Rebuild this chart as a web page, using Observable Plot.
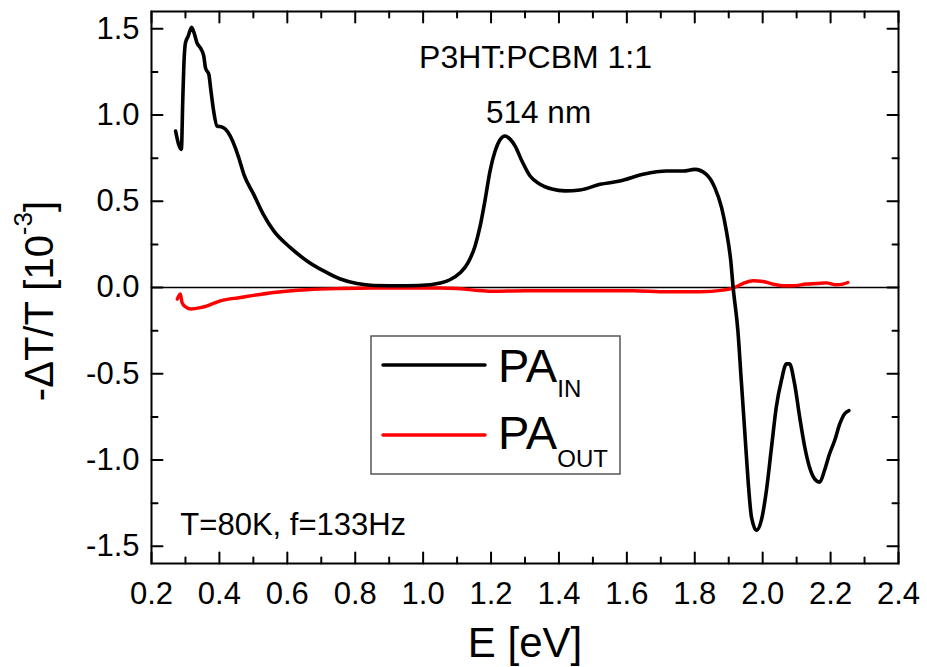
<!DOCTYPE html>
<html><head><meta charset="utf-8">
<script src="https://cdn.jsdelivr.net/npm/d3@7"></script>
<script src="https://cdn.jsdelivr.net/npm/@observablehq/plot@0.6"></script>
<style>body{margin:0;background:#fff;} svg{display:block;}</style>
</head><body><div id="chart"></div>
<script>
// PA_IN (black) photon energy [eV] and -ΔT/T [1e-3]
const E_in = [
  0.271, 0.280, 0.288, 0.292, 0.295, 0.300, 0.308, 0.318, 0.327, 0.334,
  0.344, 0.354, 0.359, 0.369, 0.374, 0.383, 0.393, 0.408, 0.418, 0.432,
  0.447, 0.457, 0.472, 0.501, 0.529, 0.560, 0.609, 0.658, 0.707, 0.756,
  0.805, 0.854, 0.952, 1.021, 1.050, 1.079, 1.109, 1.132, 1.153, 1.168,
  1.182, 1.197, 1.212, 1.226, 1.241, 1.256, 1.271, 1.291, 1.315, 1.344,
  1.379, 1.418, 1.462, 1.521, 1.579, 1.648, 1.717, 1.766, 1.800, 1.834,
  1.859, 1.879, 1.893, 1.906, 1.913, 1.927, 1.937, 1.947, 1.957, 1.967,
  1.982, 1.996, 2.011, 2.026, 2.040, 2.055, 2.070, 2.079, 2.094, 2.109,
  2.124, 2.138, 2.153, 2.168, 2.182, 2.197, 2.212, 2.227, 2.241, 2.254
];
const PA_in = [
  0.907, 0.830, 0.801, 1.080, 1.273, 1.418, 1.457, 1.509, 1.466, 1.418,
  1.389, 1.341, 1.273, 1.235, 1.157, 1.023, 0.936, 0.930, 0.917, 0.878,
  0.810, 0.752, 0.656, 0.540, 0.425, 0.328, 0.231, 0.154, 0.096, 0.049,
  0.023, 0.012, 0.010, 0.016, 0.026, 0.045, 0.085, 0.143, 0.241, 0.357,
  0.502, 0.675, 0.791, 0.855, 0.878, 0.860, 0.820, 0.733, 0.646, 0.599,
  0.571, 0.560, 0.565, 0.598, 0.617, 0.656, 0.675, 0.675, 0.685, 0.656,
  0.579, 0.463, 0.328, 0.154, 0.000, -0.251, -0.540, -0.829, -1.119, -1.331,
  -1.408, -1.350, -1.177, -0.926, -0.694, -0.540, -0.443, -0.443, -0.559, -0.752,
  -0.926, -1.042, -1.109, -1.128, -1.061, -0.964, -0.887, -0.791, -0.733, -0.714
];
// PA_OUT (red)
const E_out = [
  0.276, 0.285, 0.290, 0.300, 0.315, 0.344, 0.364, 0.403, 0.462, 0.560,
  0.658, 0.756, 0.854, 0.950, 1.050, 1.100, 1.150, 1.200, 1.300, 1.400,
  1.521, 1.618, 1.717, 1.815, 1.883, 1.913, 1.942, 1.972, 2.001, 2.030,
  2.060, 2.089, 2.129, 2.158, 2.187, 2.217, 2.236, 2.251
];
const PA_out = [
  -0.067, -0.038, -0.087, -0.112, -0.125, -0.117, -0.106, -0.077, -0.058, -0.029,
  -0.013, -0.006, -0.003, -0.003, -0.003, -0.006, -0.015, -0.022, -0.019, -0.019,
  -0.019, -0.019, -0.025, -0.025, -0.015, -0.003, 0.023, 0.039, 0.035, 0.020,
  0.010, 0.010, 0.020, 0.023, 0.027, 0.016, 0.020, 0.029
];
// tick values
const xMajor = [0.2, 0.4, 0.6, 0.8, 1.0, 1.2, 1.4, 1.6, 1.8, 2.0, 2.2, 2.4];
const xMinor = [0.3, 0.5, 0.7, 0.9, 1.1, 1.3, 1.5, 1.7, 1.9, 2.1, 2.3];
const yMajor = [-1.5, -1.0, -0.5, 0.0, 0.5, 1.0, 1.5];
const yMinor = [-1.25, -0.75, -0.25, 0.25, 0.75, 1.25];
const seriesNames = ["PA", "PA"];
const seriesSubs = ["IN", "OUT"];
const seriesColors = ["#000000", "#ff0000"];

const inData = E_in.map((e, i) => ({E: e, v: PA_in[i]}));
const outData = E_out.map((e, i) => ({E: e, v: PA_out[i]}));
const font = "'Liberation Sans', Arial, Helvetica, sans-serif";
const fmt = d => d.toFixed(1);

// straight tick shape for vectors (drawn from the anchor point)
const tickShape = {draw(context, l) { context.moveTo(0, 0); context.lineTo(0, -l); }};
const xTicks = (values, side, len) => Plot.vectorX(values, {
  x: d => d, frameAnchor: side, length: len, rotate: side === "bottom" ? 0 : 180,
  anchor: "start", shape: tickShape, stroke: "black", strokeWidth: 2
});
const yTicks = (values, side, len) => Plot.vectorY(values, {
  y: d => d, frameAnchor: side, length: len, rotate: side === "left" ? 90 : -90,
  anchor: "start", shape: tickShape, stroke: "black", strokeWidth: 2
});

const chart = Plot.plot({
  width: 927, height: 667,
  marginLeft: 151, marginRight: 29, marginTop: 11, marginBottom: 104,
  style: {fontFamily: font, background: "white", color: "black"},
  x: {domain: [0.2, 2.4]},
  y: {domain: [-1.6, 1.6]},
  marks: [
    Plot.ruleY([0], {stroke: "black", strokeWidth: 1.5}),
    Plot.line(outData, {x: "E", y: "v", stroke: seriesColors[1], strokeWidth: 3.4, curve: "monotone-x", strokeLinecap: "round"}),
    Plot.line(inData, {x: "E", y: "v", stroke: seriesColors[0], strokeWidth: 3.6, curve: "monotone-x", strokeLinecap: "round"}),
    Plot.frame({stroke: "black", strokeWidth: 2}),
    // inward ticks on all four sides
    xTicks(xMajor, "bottom", 11), xTicks(xMinor, "bottom", 6),
    xTicks(xMajor, "top", 11), xTicks(xMinor, "top", 6),
    yTicks(yMajor, "left", 11), yTicks(yMinor, "left", 6),
    yTicks(yMajor, "right", 11), yTicks(yMinor, "right", 6),
    // tick labels
    Plot.axisX({anchor: "bottom", ticks: xMajor, tickSize: 0, tickPadding: 18, tickFormat: fmt, fontSize: 31, label: null}),
    Plot.axisY({anchor: "left", ticks: yMajor, tickSize: 0, tickPadding: 12, tickFormat: fmt, fontSize: 31, label: null}),
    // annotations
    Plot.text(["P3HT:PCBM 1:1"], {x: 1.331, y: 1.271, text: d => d, fontSize: 32, lineAnchor: "bottom", textAnchor: "middle"}),
    Plot.text(["514 nm"], {x: 1.340, y: 0.953, text: d => d, fontSize: 31.5, lineAnchor: "bottom", textAnchor: "middle"}),
    Plot.text(["T=80K, f=133Hz"], {x: 0.285, y: -1.437, text: d => d, fontSize: 31, lineAnchor: "bottom", textAnchor: "start"})
  ]
});
document.getElementById("chart").appendChild(chart);

const svg = d3.select(chart);
// y axis label with superscript
const yl = svg.append("text")
  .attr("transform", "translate(53,301) rotate(-90)")
  .attr("text-anchor", "middle")
  .attr("font-size", 40)
  .attr("fill", "black");
yl.append("tspan").text("-ΔT/T [10");
yl.append("tspan").attr("font-size", 26).attr("dy", -21).text("-3");
yl.append("tspan").attr("dy", 21).text("]");
// x axis label
svg.append("text")
  .attr("x", 525).attr("y", 657)
  .attr("text-anchor", "middle")
  .attr("font-size", 42)
  .attr("fill", "black")
  .text("E [eV]");
// legend
const lg = svg.append("g");
lg.append("rect").attr("x", 371).attr("y", 336).attr("width", 249).attr("height", 138)
  .attr("fill", "white").attr("stroke", "#555").attr("stroke-width", 1.5);
const rowsY = [365, 435];
const baseY = [382, 449];
const subDy = [15, 18];
seriesNames.forEach((name, i) => {
  lg.append("line").attr("x1", 383).attr("x2", 485).attr("y1", rowsY[i]).attr("y2", rowsY[i])
    .attr("stroke", seriesColors[i]).attr("stroke-width", 3.5).attr("stroke-linecap", "round");
  const t = lg.append("text").attr("x", 498).attr("y", baseY[i]).attr("text-anchor", "start")
    .attr("font-size", 47).attr("fill", "black");
  t.append("tspan").text(name);
  t.append("tspan").attr("font-size", 24).attr("dy", subDy[i]).text(seriesSubs[i]);
});
</script>
</body></html>
